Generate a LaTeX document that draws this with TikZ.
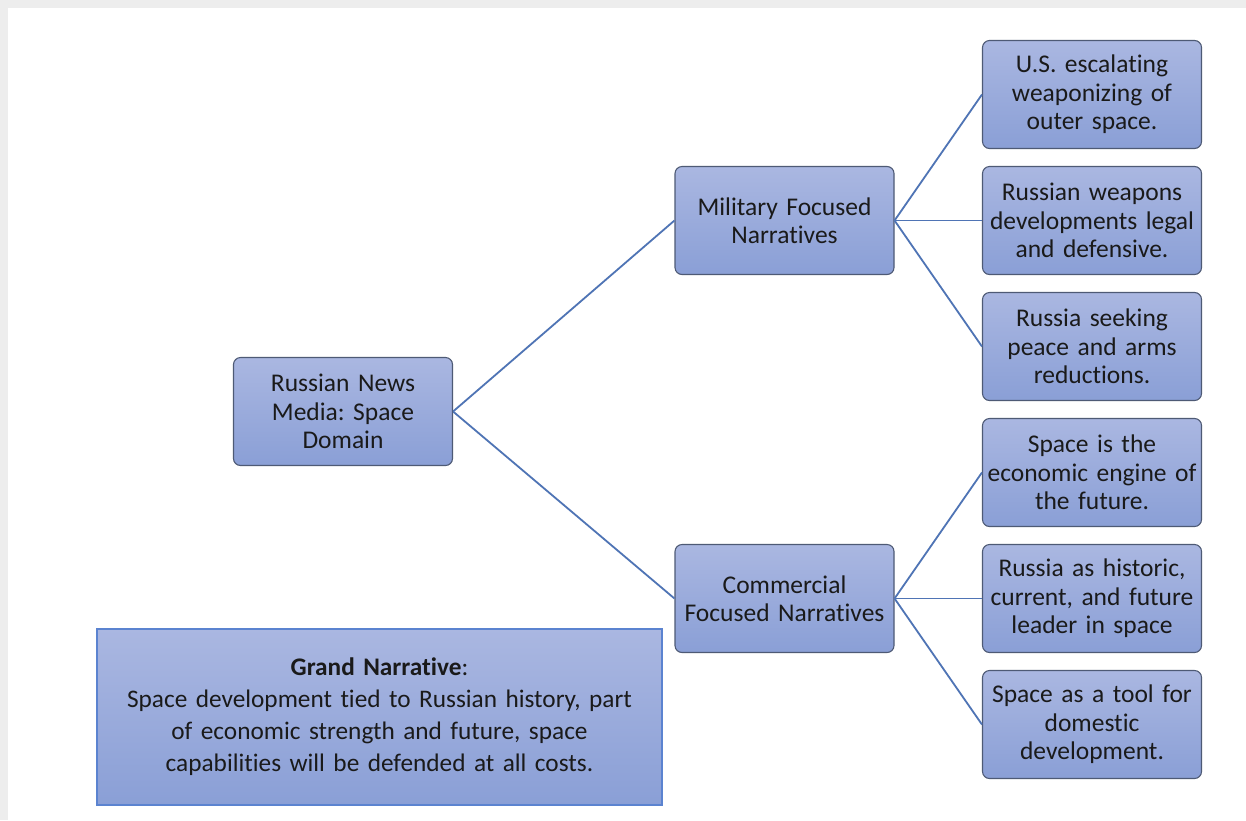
\documentclass[tikz,border=0pt]{standalone}
\usepackage{fontspec}
\setmainfont[Ligatures=NoCommon]{Carlito}
\frenchspacing
\definecolor{boxtop}{HTML}{AAB7E1}
\definecolor{boxbot}{HTML}{8A9FD6}
\definecolor{boxline}{HTML}{4E5A75}
\definecolor{linkc}{HTML}{4F74B5}
\definecolor{grandline}{HTML}{5B83D0}
\definecolor{txt}{HTML}{1A1A1A}
\definecolor{framec}{HTML}{EDEDED}
\begin{document}
\begin{tikzpicture}[x=1pt,y=-1pt,
  nbox/.style={rounded corners=7pt, draw=boxline, line width=1.1pt,
    top color=boxtop, bottom color=boxbot, minimum width=219pt, minimum height=108pt,
    text width=214pt, align=center, text=txt, inner sep=0pt,
    font=\fontsize{25.5}{28.5}\selectfont},
  link/.style={draw=linkc, line width=1.8pt}]
\useasboundingbox (0,0) rectangle (1246,820);
\fill[white] (0,0) rectangle (1246,820);
\fill[framec] (0,0) rectangle (1246,8);
\fill[framec] (0,0) rectangle (8,820);
% nodes
\node[nbox] (root) at (343,411.5) {Russian News\\Media: Space\\Domain};
\node[nbox] (mil) at (784.5,220.5) {Military Focused\\Narratives};
\node[nbox] (com) at (784.5,598.5) {Commercial\\Focused Narratives};
\node[nbox] (m1) at (1092,94.5) {U.S. escalating\\weaponizing of\\outer space.};
\node[nbox] (m2) at (1092,220.5) {Russian weapons\\developments legal\\and defensive.};
\node[nbox] (m3) at (1092,346.5) {Russia seeking\\peace and arms\\reductions.};
\node[nbox] (c1) at (1092,472.5) {Space is the\\economic engine of\\the future.};
\node[nbox] (c2) at (1092,598.5) {Russia as historic,\\current, and future\\leader in space};
\node[nbox] (c3) at (1092,724.5) {Space as a tool for\\domestic\\development.};
\node[draw=grandline, line width=1.1pt, top color=boxtop, bottom color=boxbot,
  minimum width=565pt, minimum height=176pt, text width=555pt, align=center,
  inner sep=0pt, text=txt, font=\fontsize{25.3}{32}\selectfont] (grand) at (379.5,717)
  {\textbf{Grand Narrative}:\\Space development tied to Russian history, part\\of economic strength and future, space\\capabilities will be defended at all costs.};
% links
\foreach \c in {mil,com} \draw[link] (root.east) -- (\c.west);
\foreach \c in {m1,m2,m3} \draw[link] (mil.east) -- (\c.west);
\foreach \c in {c1,c2,c3} \draw[link] (com.east) -- (\c.west);
\end{tikzpicture}
\end{document}
